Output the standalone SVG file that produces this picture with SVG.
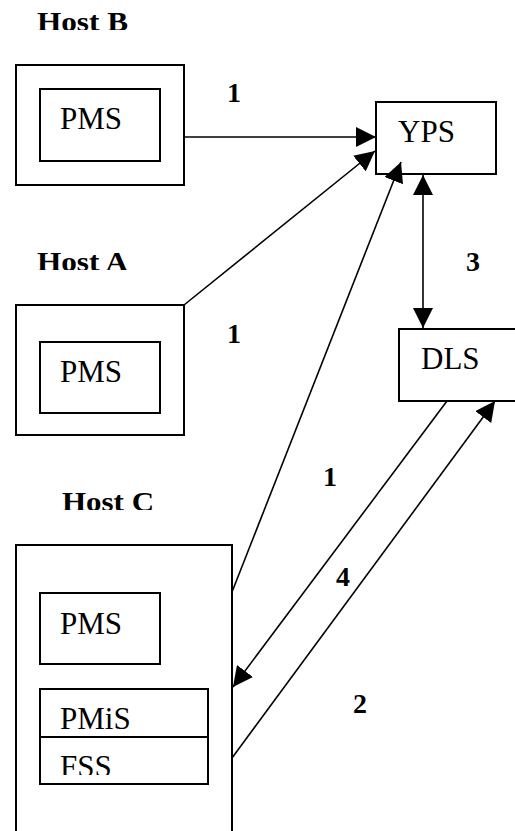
<svg xmlns="http://www.w3.org/2000/svg" width="515" height="831" viewBox="0 0 515 831">
<defs>
<style>
.box{fill:#fff;stroke:#000;stroke-width:2}
text{font-family:'Liberation Serif','DejaVu Serif','Times New Roman',Times,serif;fill:#000}
.t{font-size:31px}
.h{font-size:28px;font-weight:bold}
.n{font-size:28px;font-weight:bold}
.c{stroke:#000;stroke-width:1.6;fill:none;marker-end:url(#ah)}
</style>
<marker id="ah" viewBox="0 0 20 20" refX="20" refY="10" markerWidth="20" markerHeight="20" markerUnits="userSpaceOnUse" orient="auto-start-reverse">
<path d="M0,0 L20,10 L0,20 z" fill="#000"/>
</marker>
<clipPath id="cb"><rect x="0" y="0" width="515" height="30"/></clipPath>
<clipPath id="ca"><rect x="0" y="240" width="515" height="30"/></clipPath>
<clipPath id="cc"><rect x="0" y="480" width="515" height="30"/></clipPath>
<clipPath id="cf"><rect x="0" y="740" width="515" height="35"/></clipPath>
</defs>
<g id="hostB">
<text class="h" x="37" y="31" textLength="91" lengthAdjust="spacingAndGlyphs" clip-path="url(#cb)">Host B</text>
<rect class="box" x="16" y="65" width="168" height="120"/>
<rect class="box" x="40" y="89" width="120" height="72"/>
<text class="t" x="60" y="129">PMS</text>
</g>
<g id="hostA">
<text class="h" x="37" y="271" textLength="91" lengthAdjust="spacingAndGlyphs" clip-path="url(#ca)">Host A</text>
<rect class="box" x="16" y="305" width="168" height="130"/>
<rect class="box" x="40" y="342" width="120" height="71"/>
<text class="t" x="60" y="382">PMS</text>
</g>
<g id="hostC">
<text class="h" x="62" y="511" textLength="92" lengthAdjust="spacingAndGlyphs" clip-path="url(#cc)">Host C</text>
<rect class="box" x="16" y="545" width="216" height="300"/>
<rect class="box" x="40" y="593" width="120" height="71"/>
<text class="t" x="60" y="634">PMS</text>
<rect class="box" x="40" y="689" width="168" height="95"/>
<line x1="40" y1="737" x2="208" y2="737" stroke="#000" stroke-width="2"/>
<text class="t" x="60" y="729">PMiS</text>
<text class="t" x="60" y="777" clip-path="url(#cf)">FSS</text>
</g>
<g id="yps">
<rect class="box" x="376" y="102" width="120" height="72"/>
<text class="t" x="398" y="142">YPS</text>
</g>
<g id="dls">
<rect class="box" x="399" y="329" width="125" height="72"/>
<text class="t" x="421" y="369">DLS</text>
</g>
<g id="connectors">
<line class="c" x1="184" y1="137" x2="376" y2="137"/>
<line class="c" x1="184" y1="305" x2="375" y2="151"/>
<line class="c" x1="232" y1="592" x2="401" y2="162"/>
<line class="c" x1="423" y1="175" x2="423" y2="328" style="marker-start:url(#ah)"/>
<line class="c" x1="447" y1="401" x2="233" y2="687"/>
<line class="c" x1="232" y1="758" x2="495" y2="401"/>
<line x1="379" y1="496" x2="383" y2="491" stroke="#fff" stroke-width="3"/>
</g>
<g id="labels">
<text class="n" x="227" y="102">1</text>
<text class="n" x="227" y="343">1</text>
<text class="n" x="466" y="271">3</text>
<text class="n" x="323" y="486">1</text>
<text class="n" x="336" y="586">4</text>
<text class="n" x="353" y="713">2</text>
</g>
</svg>
